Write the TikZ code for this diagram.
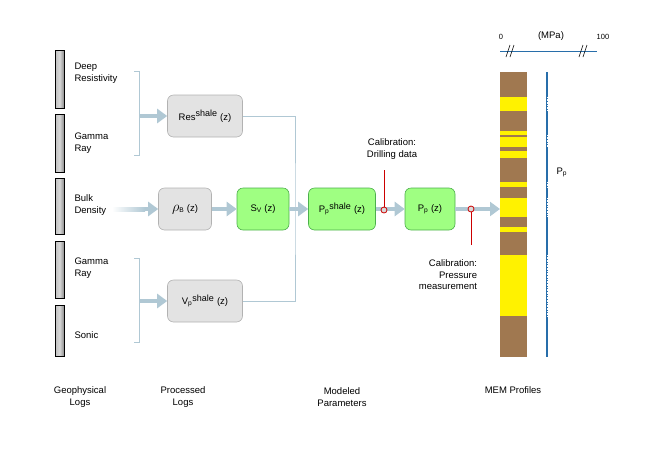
\documentclass[tikz,border=0pt]{standalone}
\usepackage{fontspec}
\setmainfont{Liberation Sans}
\usetikzlibrary{arrows.meta}
\begin{document}
\begin{tikzpicture}[x=1pt,y=-1pt,font=\fontsize{9.5}{11.5}\selectfont,
 logbar/.style={draw=black,line width=0.8pt,left color=gray!50,right color=gray!90,middle color=gray!30},
 gbox/.style={draw=gray!60,fill=gray!22,rounded corners=6pt,line width=0.6pt},
 grbox/.style={draw=green!55!black!70,fill=green!40!white!85!lime,rounded corners=6pt,line width=0.6pt},
 flow/.style={draw={rgb,255:red,176;green,200;blue,212},line width=4pt,-{Triangle[width=14pt,length=10pt]}},
 thin/.style={draw={rgb,255:red,176;green,200;blue,212},line width=1pt},
 cal/.style={draw=red!80!black,line width=1pt},
 lbl/.style={align=left,anchor=west}]
\useasboundingbox (0,0) rectangle (649,451);
\definecolor{brn}{RGB}{160,120,80}
\definecolor{mblue}{RGB}{40,110,170}
% logs
\foreach \a/\b in {50/108,114/172,178/234,241/298,305/356}
  \shade[logbar] (55,\a) rectangle (64,\b);
\node[lbl] (l1) at (71,73) {Deep\\Resistivity};
\node[lbl] (l2) at (71,143) {Gamma\\Ray};
\node[lbl] (l3) at (71,205) {Bulk\\Density};
\node[lbl] (l4) at (71,268) {Gamma\\Ray};
\node[lbl] (l5) at (71,335) {Sonic};
% brackets
\draw[thin] (134,71) -- (139,71) -- (139,155) -- (134,155);
\draw[thin] (134,258) -- (139,258) -- (139,342) -- (134,342);
% boxes
\node[gbox,minimum width=75pt,minimum height=42pt] (res) at (205,116) {Res$^{\mbox{\small shale}}$ (z)};
\node[gbox,minimum width=53pt,minimum height=42pt] (rho) at (185,209) {{\Large$\rho$}$_{\mathrm B}$ (z)};
\node[grbox,minimum width=52pt,minimum height=42pt] (sv) at (263,209) {S$_\mathrm{V}$ (z)};
\node[gbox,minimum width=75pt,minimum height=42pt] (vp) at (205,301) {V$_\mathrm{p}$$^{\mbox{\small shale}}$ (z)};
\node[grbox,minimum width=67pt,minimum height=42pt] (pps) at (342,209) {P$_\mathrm{p}$$^{\mbox{\small shale}}$ (z)};
\node[grbox,minimum width=50pt,minimum height=42pt] (pp) at (430,209) {P$_\mathrm{p}$ (z)};
\coordinate (b1) at (139,116);
\coordinate (b2) at (139,301);
\draw[flow] (b1) -- (res);
\draw[flow] (b2) -- (vp);
\shade[left color=white,right color={rgb,255:red,176;green,200;blue,212}] (112,207) rectangle (145,211);
\coordinate (bd) at (145,209);
\draw[flow] (bd) -- (rho);
\draw[flow] (rho) -- (sv);
\draw[flow] (sv) -- (pps);
\draw[flow] (pps) -- (pp);
\coordinate (jn) at (295,209);
\draw[thin] (res.east) -| (jn) |- (vp.east);
% column
\fill[brn] (500,72) rectangle (527,357);
\foreach \a/\b in {97/111,131/135,137/147,151/158,182/187,198/217,227/232,255/316}
  \fill[yellow] (500,\a) rectangle (527,\b);
\coordinate (col) at (500,209);
\draw[flow] (pp) -- (col);
% calibration
\coordinate (c1t) at (384,170);
\coordinate (c2b) at (471,245);
\draw[cal] (c1t) -- (384,207);
\draw[cal] (c2b) -- (471,212);
\draw[red!80!black,fill=gray!30,line width=0.8pt] (384,210) circle (3pt);
\draw[red!80!black,fill=gray!30,line width=0.8pt] (471,209) circle (3pt);
\node[align=center] (cal1) at (392,149) {Calibration:\\Drilling data};
\node[align=right] (cal2) at (448,275) {Calibration:\\Pressure\\measurement};
% profile line
\draw[mblue,line width=1.2pt] (547,72) -- (547,357);
\foreach \a/\b in {97/111,135/147,182/187,198/217,255/316}
  \draw[white,line width=0.4pt,dash pattern=on 0.8pt off 0.8pt] (547,\a) -- (547,\b);
\node[anchor=west] (ppl) at (553,172) {P$_\mathrm{p}$};
% scale
\draw[mblue,line width=1pt] (500,51) -- (597,51);
\foreach \x in {510,583} {\draw[black,line width=0.6pt] (\x-4,57) -- (\x,45); \draw[black,line width=0.6pt] (\x,57) -- (\x+4,45);}
\node[font=\fontsize{7.5}{9}\selectfont] (s0) at (501,37) {0};
\node (smpa) at (551,36) {(MPa)};
\node[font=\fontsize{7.5}{9}\selectfont] (s100) at (603,37) {100};
% bottom labels
\node[align=center] (t1) at (80,397) {Geophysical\\Logs};
\node[align=center] (t2) at (183,397) {Processed\\Logs};
\node[align=center] (t3) at (342,397) {Modeled\\Parameters};
\node (t4) at (513,390) {MEM Profiles};
\end{tikzpicture}
\end{document}
